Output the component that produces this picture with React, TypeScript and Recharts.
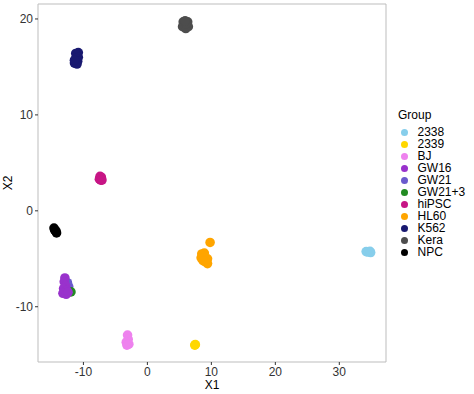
import { ScatterChart, Scatter, XAxis, YAxis, ReferenceArea, Legend } from "recharts"

// Group names and colours (legend order)
const groups = ["2338", "2339", "BJ", "GW16", "GW21", "GW21+3", "hiPSC", "HL60", "K562", "Kera", "NPC"]
const groupColors = ["#87CEEB", "#FFD700", "#EE82EE", "#9932CC", "#6A5ACD", "#228B22", "#C71585", "#FFA500", "#191970", "#4D4D4D", "#000000"]

// Embedding coordinates per group
const pts2338 = [
  { x: 34.2, y: -4.25 }, { x: 34.5, y: -4.3 }, { x: 34.8, y: -4.22 }, { x: 34.9, y: -4.35 },
]
const pts2339 = [{ x: 7.4, y: -14.0 }, { x: 7.5, y: -13.95 }]
const ptsBJ = [
  { x: -3.1, y: -12.95 }, { x: -3.0, y: -13.4 }, { x: -3.3, y: -13.7 }, { x: -2.9, y: -13.9 }, { x: -3.2, y: -14.0 },
]
const ptsGW16 = [
  { x: -12.9, y: -7.0 }, { x: -13.0, y: -7.4 }, { x: -12.8, y: -7.8 }, { x: -13.1, y: -8.1 },
  { x: -12.6, y: -8.3 }, { x: -13.2, y: -8.6 }, { x: -12.7, y: -8.7 }, { x: -12.4, y: -8.5 },
]
const ptsGW21 = [{ x: -12.3, y: -7.9 }, { x: -12.5, y: -7.5 }]
const ptsGW213 = [{ x: -11.95, y: -8.45 }]
const ptsHiPSC = [
  { x: -7.4, y: 3.6 }, { x: -7.2, y: 3.5 }, { x: -7.3, y: 3.2 }, { x: -7.5, y: 3.3 }, { x: -7.1, y: 3.2 },
]
const ptsHL60 = [
  { x: 8.5, y: -4.5 }, { x: 8.9, y: -4.4 }, { x: 8.4, y: -4.9 }, { x: 8.9, y: -4.9 }, { x: 9.4, y: -5.0 },
  { x: 9.0, y: -5.3 }, { x: 9.4, y: -5.5 }, { x: 8.7, y: -5.2 }, { x: 9.8, y: -3.3 },
]
const ptsK562 = [
  { x: -10.8, y: 16.5 }, { x: -11.2, y: 16.4 }, { x: -10.8, y: 16.0 }, { x: -11.2, y: 15.9 },
  { x: -10.9, y: 15.6 }, { x: -11.4, y: 15.4 }, { x: -11.0, y: 15.3 }, { x: -11.4, y: 15.7 },
]
const ptsKera = [
  { x: 5.6, y: 19.7 }, { x: 6.3, y: 19.7 }, { x: 5.5, y: 19.2 }, { x: 6.4, y: 19.2 },
  { x: 6.0, y: 19.0 }, { x: 6.0, y: 19.5 }, { x: 5.9, y: 19.8 },
]
const ptsNPC = [{ x: -14.6, y: -1.8 }, { x: -14.3, y: -2.1 }, { x: -14.2, y: -2.3 }, { x: -14.5, y: -2.0 }]

const groupPoints: Record<string, { x: number; y: number }[]> = {
  "2338": pts2338, "2339": pts2339, BJ: ptsBJ, GW16: ptsGW16, GW21: ptsGW21, "GW21+3": ptsGW213,
  hiPSC: ptsHiPSC, HL60: ptsHL60, K562: ptsK562, Kera: ptsKera, NPC: ptsNPC,
}

// draw order: GW21 / GW21+3 go under GW16
const drawOrder = ["2338", "2339", "BJ", "GW21", "GW21+3", "GW16", "hiPSC", "HL60", "K562", "Kera", "NPC"]

const xTicks = [-10, 0, 10, 20, 30]
const yTicks = [-10, 0, 10, 20]
const xDomain: [number, number] = [-17.1, 37.3]
const yDomain: [number, number] = [-15.76, 21.56]

const font = "'Liberation Sans', Arial, sans-serif"

const renderLegend = () => (
  <div style={{ fontFamily: font, color: "#000" }}>
    <div style={{ fontSize: 12, lineHeight: "16px", marginBottom: 3 }}>Group</div>
    {groups.map((g, i) => (
      <div key={g} style={{ display: "flex", alignItems: "center", height: 12, lineHeight: "12px", fontSize: 12 }}>
        <span style={{ width: 7, height: 7, borderRadius: "50%", background: groupColors[i], marginLeft: 3, marginRight: 9.5 }} />
        {g}
      </div>
    ))}
  </div>
)

export default function App() {
  return (
    <div style={{ position: "absolute", left: 0, top: 0, background: "#fff" }}>
      <ScatterChart width={474} height={394} margin={{ top: 4, right: 88, left: 0, bottom: 0 }}>
        <XAxis
          type="number"
          dataKey="x"
          domain={xDomain}
          ticks={xTicks}
          allowDataOverflow
          height={32}
          axisLine={false}
          tickSize={3}
          tickLine={{ stroke: "#333" }}
          tick={{ fill: "#333", fontSize: 12, fontFamily: font }}
          label={{ value: "X1", position: "insideBottom", offset: 5, fill: "#000", fontSize: 12, fontFamily: font }}
        />
        <YAxis
          type="number"
          dataKey="y"
          domain={yDomain}
          ticks={yTicks}
          allowDataOverflow
          width={38}
          axisLine={false}
          tickSize={3}
          tickLine={{ stroke: "#333" }}
          tick={{ fill: "#333", fontSize: 12, fontFamily: font }}
          label={{
            content: () => (
              <text x={8} y={183} transform="rotate(-90 8 183)" textAnchor="middle" dominantBaseline="central"
                fill="#000" fontSize={12} fontFamily={font}>X2</text>
            ),
          }}
        />
        <ReferenceArea x1={xDomain[0]} x2={xDomain[1]} y1={yDomain[0]} y2={yDomain[1]} fill="none" stroke="#BDBDBD" strokeWidth={1} />
        {drawOrder.map((g) => {
          const color = groupColors[groups.indexOf(g)]
          return (
            <Scatter
              key={g}
              name={g}
              data={groupPoints[g]}
              fill={color}
              isAnimationActive={false}
              shape={(p: any) => <circle cx={p.cx} cy={p.cy} r={4.8} fill={color} />}
            />
          )
        })}
        <Legend
          layout="horizontal"
          verticalAlign="middle"
          align="center"
          content={renderLegend}
          wrapperStyle={{ position: "absolute", left: 398, top: 107, width: 76 }}
        />
      </ScatterChart>
    </div>
  )
}
